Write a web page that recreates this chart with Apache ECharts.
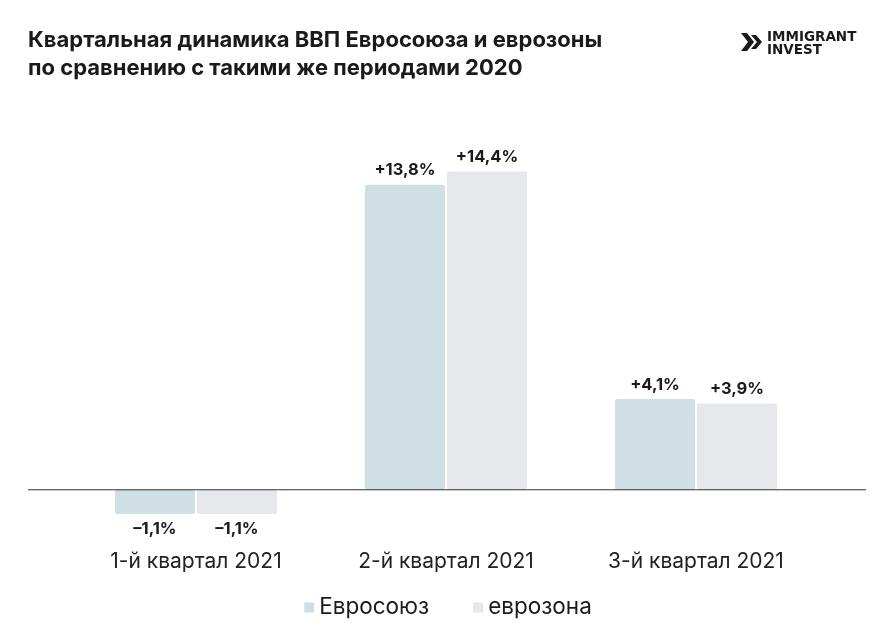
<!DOCTYPE html>
<html><head><meta charset="utf-8">
<script src="https://cdn.jsdelivr.net/npm/echarts@6/dist/echarts.min.js"></script>
<style>html,body{margin:0;padding:0;background:#fff}#c{width:896px;height:639px}</style>
</head><body><div id="c"></div>
<script>
const categories = ['1-й квартал 2021', '2-й квартал 2021', '3-й квартал 2021'];
const seriesNames = ['Евросоюз', 'еврозона'];
const euValues = [-1.1, 13.8, 4.1];
const ezValues = [-1.1, 14.4, 3.9];
const titleLines = ['Квартальная динамика ВВП Евросоюза и еврозоны', 'по сравнению с такими же периодами 2020'];

const FONT = 'Inter, "Noto Sans", sans-serif';
function fmt(v){ return (v > 0 ? '+' : '–') + Math.abs(v).toFixed(1).replace('.', ',') + '%'; }
function mkSeries(name, vals, color){
  return {
    name, type: 'bar', barWidth: 80, barGap: '2.5%',
    itemStyle: { color, borderRadius: 2 },
    data: vals.map(v => ({
      value: v,
      label: { show: true, position: v >= 0 ? 'top' : 'bottom', distance: 6,
        formatter: p => fmt(p.value), fontFamily: FONT, fontWeight: 'bold', fontSize: 16.5, color: '#1a1a1a' }
    }))
  };
}
const chart = echarts.init(document.getElementById('c'), null, {renderer: 'canvas'});
chart.setOption({
  backgroundColor: '#fff',
  animation: false,
  title: { text: titleLines.join('\n'), left: 28, top: 26, padding: 0,
    textStyle: { fontFamily: FONT, fontWeight: 'bold', fontSize: 22, lineHeight: 28, color: '#1a1a1a' } },
  legend: { bottom: 15, left: 'center', itemWidth: 10, itemHeight: 10, itemGap: 44, icon: 'rect',
    textStyle: { fontFamily: FONT, fontSize: 22.5, color: '#1a1a1a' }, data: seriesNames },
  grid: { left: 71, right: 75, top: 136, height: 398 },
  xAxis: { type: 'category', data: categories,
    axisLine: { show: false, onZero: false }, axisTick: { show: false },
    axisLabel: { margin: 17, fontFamily: FONT, fontSize: 21, color: '#222' } },
  yAxis: { type: 'value', min: -2, max: 16, show: false, splitLine: { show: false } },
  series: [mkSeries(seriesNames[0], euValues, '#d0dfe6'), mkSeries(seriesNames[1], ezValues, '#e6e7ea')]
});
const y0 = chart.convertToPixel({yAxisIndex: 0}, 0);
chart.setOption({
  graphic: [
    { type: 'line', z: 10, shape: { x1: 28, y1: y0, x2: 866, y2: y0 }, style: { stroke: '#333', lineWidth: 1 } },
    { type: 'polygon', shape: { points: [[741,33],[747,33],[754,42],[747,51],[741,51],[748,42]] }, style: { fill: '#1a1a1a' } },
    { type: 'polygon', shape: { points: [[751,35],[756,35],[762,42],[756,49],[751,49],[757,42]] }, style: { fill: '#1a1a1a' } },
    { type: 'text', left: 767, top: 30, style: { text: 'IMMIGRANT\nINVEST', fontFamily: '"DejaVu Sans", sans-serif', fontWeight: 'bold', fontSize: 13.5, lineHeight: 13.5, fill: '#1a1a1a' } }
  ]
});
</script></body></html>
